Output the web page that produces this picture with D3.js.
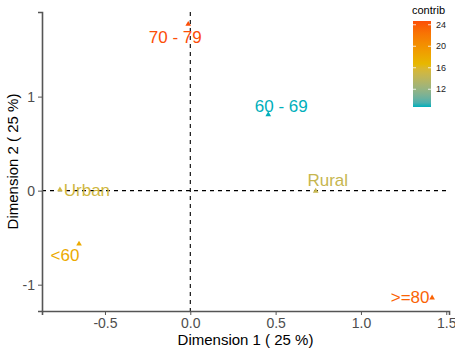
<!DOCTYPE html>
<html>
<head>
<meta charset="utf-8">
<script src="https://cdn.jsdelivr.net/npm/d3@7"></script>
<style>
  body { margin: 0; background: #fff; }
  svg { font-family: "Liberation Sans", Arial, sans-serif; display: block; }
</style>
</head>
<body>
<div id="wrapper"></div>
<script>
// data
const categories = ["70 - 79", "60 - 69", "Urban", "<60", ">=80", "Rural"]
const dim1 = [-0.012, 0.457, -0.764, -0.652, 1.417, 0.735]
const dim2 = [1.77, 0.81, 0.01, -0.567, -1.14, -0.005]
const contrib = [24.7, 8.7, 15.2, 18.0, 23.5, 14.6]
const xTicks = [-0.5, 0, 0.5, 1, 1.5]
const yTicks = [-1, 0, 1]
const legendTicks = [12, 16, 20, 24]
const gradientCols = ["#00AFBB", "#E7B800", "#FC4E07"]

function drawBiplot() {
  const data = categories.map((name, i) => ({
    name, x: dim1[i], y: dim2[i], contrib: contrib[i]
  }))

  // label nudges (px) like ggrepel put them
  const labelOffset = {
    "70 - 79": [-13, 19],
    "60 - 69": [13, -2],
    "Urban": [27, 6],
    "<60": [-14, 17],
    ">=80": [-22, 5],
    "Rural": [12, -5]
  }

  const dimensions = {
    width: 455,
    height: 350,
    margin: { top: 12, right: 6, bottom: 39, left: 42 }
  }
  dimensions.boundedWidth = dimensions.width - dimensions.margin.left - dimensions.margin.right
  dimensions.boundedHeight = dimensions.height - dimensions.margin.top - dimensions.margin.bottom

  const wrapper = d3.select("#wrapper")
    .append("svg")
    .attr("width", dimensions.width)
    .attr("height", dimensions.height)

  const bounds = wrapper.append("g")
    .attr("transform", `translate(${dimensions.margin.left}, ${dimensions.margin.top})`)

  // scales
  const xScale = d3.scaleLinear()
    .domain([-0.869, 1.516])
    .range([0, dimensions.boundedWidth])

  const yScale = d3.scaleLinear()
    .domain([-1.28, 1.90])
    .range([dimensions.boundedHeight, 0])

  const cExtent = d3.extent(contrib)
  const colorScale = d3.scaleLinear()
    .domain([cExtent[0], (cExtent[0] + cExtent[1]) / 2, cExtent[1]])
    .range(gradientCols)
    .interpolate(d3.interpolateLab)

  // reference lines
  bounds.append("line")
    .attr("x1", 0).attr("x2", dimensions.boundedWidth)
    .attr("y1", yScale(0)).attr("y2", yScale(0))
    .attr("stroke", "#000")
    .attr("stroke-width", 1.1)
    .attr("stroke-dasharray", "4,4")

  bounds.append("line")
    .attr("x1", xScale(0)).attr("x2", xScale(0))
    .attr("y1", 0).attr("y2", dimensions.boundedHeight)
    .attr("stroke", "#000")
    .attr("stroke-width", 1.1)
    .attr("stroke-dasharray", "4,4")

  // points
  const triangle = d3.symbol().type(d3.symbolTriangle).size(14)
  bounds.selectAll(".pt")
    .data(data)
    .join("path")
    .attr("class", "pt")
    .attr("d", triangle)
    .attr("transform", d => `translate(${xScale(d.x)}, ${yScale(d.y)})`)
    .attr("fill", d => colorScale(d.contrib))

  bounds.selectAll(".lbl")
    .data(data)
    .join("text")
    .attr("class", "lbl")
    .attr("x", d => xScale(d.x) + labelOffset[d.name][0])
    .attr("y", d => yScale(d.y) + labelOffset[d.name][1])
    .attr("text-anchor", "middle")
    .attr("fill", d => colorScale(d.contrib))
    .style("font-size", "17px")
    .text(d => d.name)

  // axes
  const xAxis = bounds.append("g")
    .attr("transform", `translate(0, ${dimensions.boundedHeight})`)
    .call(d3.axisBottom(xScale).tickValues(xTicks).tickSizeOuter(0).tickSize(4).tickPadding(3))

  const yAxis = bounds.append("g")
    .call(d3.axisLeft(yScale).tickValues(yTicks).tickSizeOuter(0).tickSize(4).tickPadding(3))

  xAxis.selectAll(".tick text").text(d => d3.format(".1f")(d).replace("−", "-"))
  yAxis.selectAll(".tick text").text(d => d3.format("d")(d).replace("−", "-"))

  ;[xAxis, yAxis].forEach(ax => {
    ax.select(".domain").attr("stroke", "#555").attr("stroke-width", 1.6)
    ax.selectAll(".tick line").attr("stroke", "#555").attr("stroke-width", 1)
    ax.selectAll(".tick text").attr("fill", "#4D4D4D").style("font-size", "14px")
      .style("font-family", "Liberation Sans, Arial, sans-serif")
  })

  wrapper.append("text")
    .attr("x", dimensions.margin.left + dimensions.boundedWidth / 2)
    .attr("y", 345)
    .attr("text-anchor", "middle")
    .attr("fill", "#000")
    .style("font-size", "15px")
    .text("Dimension 1 ( 25 %)")

  wrapper.append("text")
    .attr("transform", `translate(18, ${dimensions.margin.top + dimensions.boundedHeight / 2}) rotate(-90)`)
    .attr("text-anchor", "middle")
    .attr("fill", "#000")
    .style("font-size", "15px")
    .text("Dimension 2 ( 25 %)")

  // legend
  const legend = wrapper.append("g")
    .attr("transform", "translate(413, 21)")
  const barW = 18
  const barH = 86

  const grad = wrapper.append("defs").append("linearGradient")
    .attr("id", "contribGrad")
    .attr("x1", 0).attr("x2", 0).attr("y1", 1).attr("y2", 0)
  d3.range(0, 1.0001, 0.05).forEach(t => {
    grad.append("stop")
      .attr("offset", t)
      .attr("stop-color", colorScale(cExtent[0] + t * (cExtent[1] - cExtent[0])))
  })

  legend.append("rect")
    .attr("width", barW)
    .attr("height", barH)
    .attr("fill", "url(#contribGrad)")

  const legendScale = d3.scaleLinear()
    .domain(cExtent)
    .range([barH, 0])

  const lt = legend.selectAll(".lt")
    .data(legendTicks)
    .join("g")
    .attr("class", "lt")
    .attr("transform", d => `translate(0, ${legendScale(d)})`)
  lt.append("line").attr("x1", 0).attr("x2", 3).attr("stroke", "#fff").attr("stroke-width", 0.8)
  lt.append("line").attr("x1", barW - 3).attr("x2", barW).attr("stroke", "#fff").attr("stroke-width", 0.8)
  lt.append("text")
    .attr("x", barW + 5)
    .attr("dy", "0.35em")
    .attr("fill", "#222")
    .style("font-size", "9px")
    .text(d => d)

  legend.append("text")
    .attr("x", -1)
    .attr("y", -7)
    .attr("fill", "#000")
    .style("font-size", "11px")
    .text("contrib")
}
drawBiplot()
</script>
</body>
</html>
